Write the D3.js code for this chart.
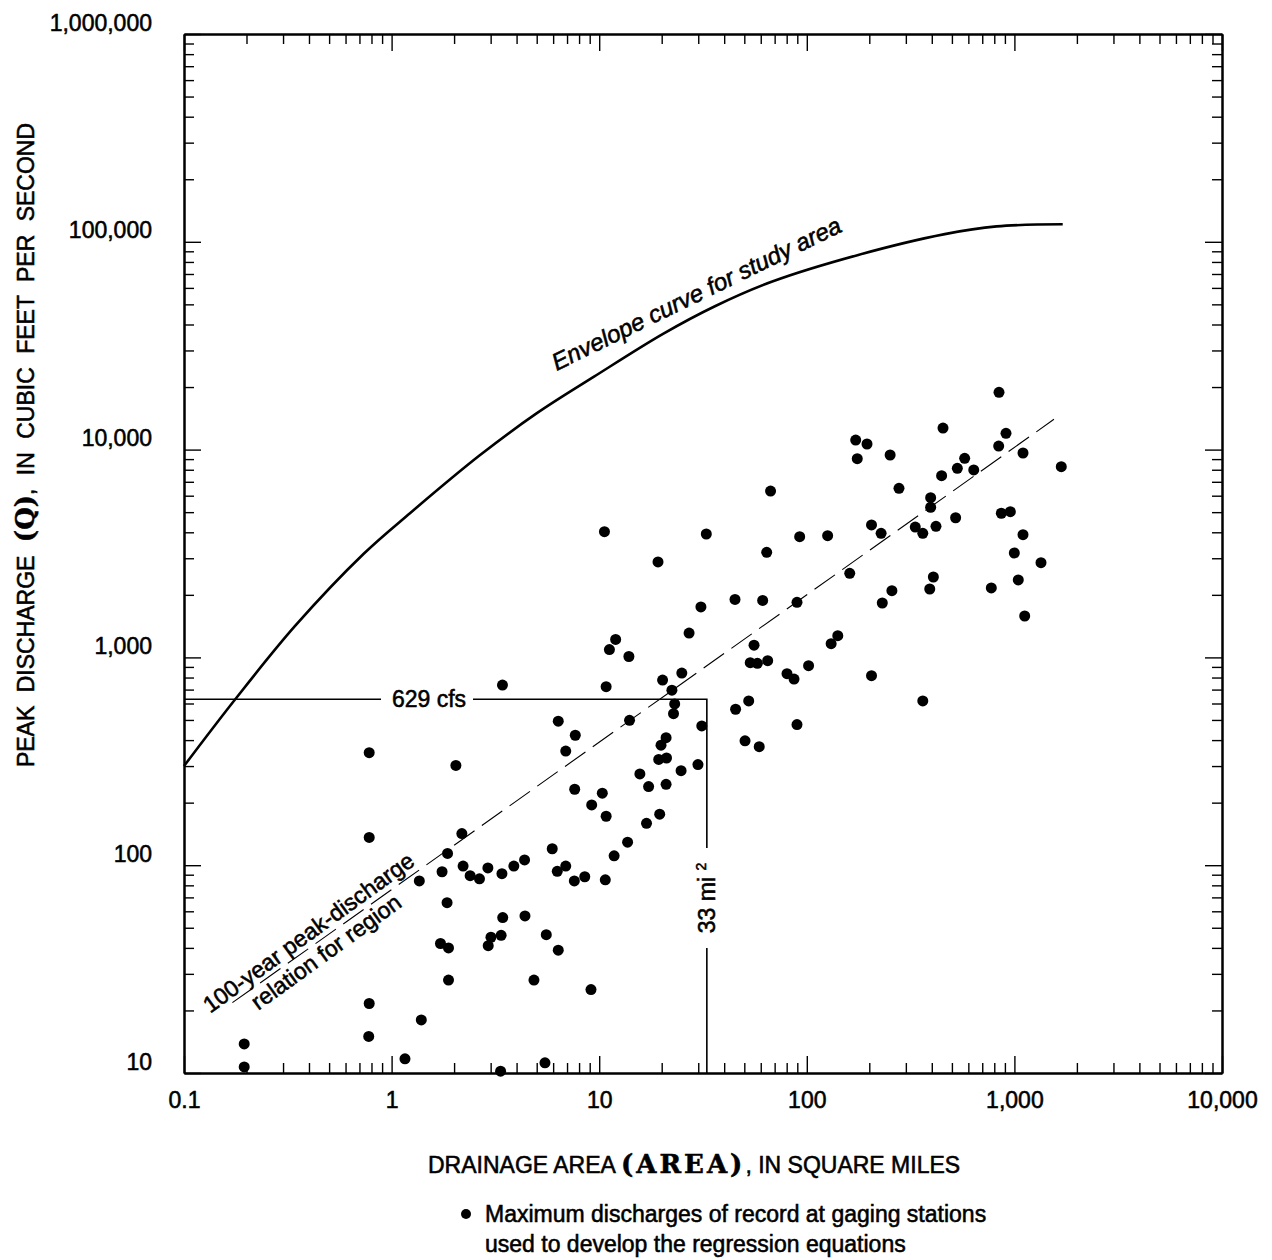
<!DOCTYPE html>
<html>
<head>
<meta charset="utf-8">
<script src="https://cdn.jsdelivr.net/npm/d3@7"></script>
<style>
    body { margin: 0; background: #fff; }
    svg text { font-family: "Liberation Sans", Arial, Helvetica, sans-serif; fill: #000; stroke: #000; stroke-width: 0.55px; }
</style>
</head>
<body>
<svg id="chart" width="1272" height="1260"></svg>
<script>
// Axes (log scales)
const xMajor = [0.1, 1, 10, 100, 1000, 10000];
const yMajor = [10, 100, 1000, 10000, 100000, 1000000];

// Gaging stations: [drainage area (mi2), peak discharge (cfs)]
const stationPoints = [
    [0.78, 348], [2.04, 302], [0.78, 136], [2.18, 142], [1.86, 114], [1.75, 93], [1.36, 84],
    [2.21, 99], [2.39, 89], [2.65, 86], [2.91, 97], [3.40, 91], [3.88, 99], [4.37, 106],
    [1.85, 66], [3.43, 56], [4.39, 57], [1.72, 42], [1.88, 40], [3.01, 45], [3.37, 46],
    [2.92, 41], [1.88, 28], [0.78, 21.6], [1.39, 18], [0.776, 15], [0.195, 13.8], [0.195, 10.7],
    [1.16, 11.7], [3.35, 10.2],
    [6.35, 493], [14.0, 498], [31.2, 468], [89.7, 475], [7.67, 422], [6.9, 354], [21.0, 411],
    [19.85, 378], [50.4, 397], [59, 372], [19.35, 323], [21.1, 328], [29.9, 305], [24.8, 285],
    [15.7, 275], [17.3, 239], [21.0, 245], [7.62, 232], [10.35, 222], [9.2, 195], [10.8, 172],
    [19.56, 176], [16.9, 159], [13.7, 129], [11.8, 111], [5.94, 120], [6.28, 93.5], [6.9, 99],
    [7.59, 84], [8.52, 88], [10.7, 85], [5.56, 46.3], [6.35, 39], [4.85, 28], [9.13, 25.2],
    [5.48, 11.2],
    [10.6, 4025], [32.8, 3925], [92.4, 3810], [64.1, 3205], [19.2, 2880], [30.9, 1750],
    [45.1, 1900], [61.3, 1880], [89.7, 1840], [27.1, 1310], [12.0, 1220], [11.2, 1090],
    [13.9, 1010], [55.7, 1145], [53.4, 943], [57.8, 937], [64.8, 964], [102, 912], [80.3, 835],
    [86.8, 787], [25.0, 841], [20.2, 778], [10.8, 723], [22.4, 695], [23.1, 597], [22.8, 536],
    [52.5, 617], [45.4, 563], [3.42, 736], [66.9, 6315],
    [843, 18870], [453, 12700], [911, 11980], [172, 11120], [195, 10640], [175, 9040],
    [252, 9420], [840, 10400], [1100, 9630], [1682, 8275], [576, 9080], [531, 8130],
    [637, 7980], [446, 7490], [278, 6510], [395, 5870], [395, 5280], [205, 4340], [228, 3955],
    [333, 4240], [362, 3955], [419, 4275], [521, 4700], [865, 4940], [956, 5025], [1100, 3895],
    [999, 3180], [1343, 2856], [1044, 2358], [774, 2158], [1121, 1582], [126, 3852], [161, 2540],
    [407, 2437], [391, 2134], [257, 2094], [231, 1827], [141, 1272], [131, 1164], [205, 817],
    [362, 617]
];

// Envelope curve for study area
const envelopeCurve = [
    [0.1, 300], [0.175, 622], [0.342, 1413], [0.736, 3162], [1.23, 4955], [2.64, 9333],
    [4.99, 14930], [9.44, 22440], [20.3, 36060], [36.1, 48980], [68.2, 64420], [177, 86500],
    [462, 108900], [821, 118600], [1709, 121400]
];

// 100-year regional relation (end points)
const regressionLine = [[0.171, 21.8], [1551, 13990]];

// Example site
const siteArea = 33;
const siteQ = 629;

const svg = d3.select('#chart');
const x = d3.scaleLog().domain([0.1, 10000]).range([184, 1222]);
const y = d3.scaleLog().domain([10, 1000000]).range([1073, 34]);

function minorTicks(majors) {
    const out = [];
    majors.slice(0, -1).forEach(m => {
        for (let k = 2; k <= 9; k++) out.push(m * k);
    });
    return out;
}
const xMinor = minorTicks(xMajor);
const yMinor = minorTicks(yMajor);

const fmt = d => d < 1 ? '0.1' : d3.format(',')(d);

function styleAxis(g) {
    g.select('.domain').attr('stroke', '#000').attr('stroke-width', 2);
    g.selectAll('.tick line').attr('stroke', '#000').attr('stroke-width', 1.4);
    g.selectAll('text')
        .attr('font-family', '"Liberation Sans", Arial, sans-serif')
        .attr('font-size', 23)
        .attr('fill', '#000');
}

// bottom
svg.append('g').attr('transform', 'translate(0,1073)')
    .call(d3.axisBottom(x).tickValues(xMinor).tickSize(-10).tickSizeOuter(0).tickFormat(''))
    .call(styleAxis);
svg.append('g').attr('transform', 'translate(0,1073)')
    .call(d3.axisBottom(x).tickValues(xMajor).tickSize(-17).tickSizeOuter(0).tickPadding(19).tickFormat(fmt))
    .call(styleAxis);

// top
svg.append('g').attr('transform', 'translate(0,34)')
    .call(d3.axisTop(x).tickValues(xMinor).tickSize(-10).tickSizeOuter(0).tickFormat(''))
    .call(styleAxis);
svg.append('g').attr('transform', 'translate(0,34)')
    .call(d3.axisTop(x).tickValues(xMajor).tickSize(-17).tickSizeOuter(0).tickFormat(''))
    .call(styleAxis);

// left
svg.append('g').attr('transform', 'translate(184,0)')
    .call(d3.axisLeft(y).tickValues(yMinor).tickSize(-10).tickSizeOuter(0).tickFormat(''))
    .call(styleAxis);
const yAxisG = svg.append('g').attr('transform', 'translate(184,0)')
    .call(d3.axisLeft(y).tickValues(yMajor).tickSize(-17).tickSizeOuter(0).tickPadding(32).tickFormat(fmt))
    .call(styleAxis);
yAxisG.selectAll('text').attr('dy', -4);

// right
svg.append('g').attr('transform', 'translate(1222,0)')
    .call(d3.axisRight(y).tickValues(yMinor).tickSize(-10).tickSizeOuter(0).tickFormat(''))
    .call(styleAxis);
svg.append('g').attr('transform', 'translate(1222,0)')
    .call(d3.axisRight(y).tickValues(yMajor).tickSize(-17).tickSizeOuter(0).tickFormat(''))
    .call(styleAxis);

// Envelope curve
const line = d3.line()
    .x(d => x(d[0]))
    .y(d => y(d[1]))
    .curve(d3.curveCatmullRom.alpha(0.5));

svg.append('path')
    .datum(envelopeCurve)
    .attr('d', line)
    .attr('fill', 'none')
    .attr('stroke', '#000')
    .attr('stroke-width', 2.6);

// Regression line (dashed)
svg.append('path')
    .datum(regressionLine)
    .attr('d', d3.line().x(d => x(d[0])).y(d => y(d[1])))
    .attr('fill', 'none')
    .attr('stroke', '#000')
    .attr('stroke-width', 1.1)
    .attr('stroke-dasharray', '25,9');

// 629 cfs / 33 mi2 guide lines
svg.append('path')
    .attr('d', `M${x(0.1)},${y(siteQ)}H${x(siteArea)}V${y(10)}`)
    .attr('fill', 'none')
    .attr('stroke', '#000')
    .attr('stroke-width', 1.6);

// label gaps
svg.append('rect')
    .attr('x', 381).attr('y', y(siteQ) - 12)
    .attr('width', 92).attr('height', 24)
    .attr('fill', '#fff');
svg.append('text')
    .attr('x', 429).attr('y', y(siteQ) + 8)
    .attr('text-anchor', 'middle')
    .attr('font-size', 23)
    .text(siteQ + ' cfs');

svg.append('rect')
    .attr('x', x(siteArea) - 13).attr('y', 848)
    .attr('width', 26).attr('height', 100)
    .attr('fill', '#fff');
const miLabel = svg.append('text')
    .attr('transform', `translate(${x(siteArea) + 8},898) rotate(-90)`)
    .attr('text-anchor', 'middle')
    .attr('font-size', 23);
miLabel.append('tspan').text(siteArea + ' mi ');
miLabel.append('tspan').attr('font-size', 14).attr('dy', -9).text('2');

// Stations
svg.selectAll('.station')
    .data(stationPoints)
    .enter()
    .append('circle')
    .attr('class', 'station')
    .attr('cx', d => x(d[0]))
    .attr('cy', d => y(d[1]))
    .attr('r', 5.5)
    .attr('fill', '#000');

// Curve labels
svg.append('text')
    .attr('transform', 'translate(700,301) rotate(-26)')
    .attr('text-anchor', 'middle')
    .attr('font-size', 24)
    .attr('font-style', 'italic')
    .text('Envelope curve for study area');

const regLabel = svg.append('g')
    .attr('transform', 'translate(316,943) rotate(-36)');
regLabel.append('text')
    .attr('y', -5)
    .attr('text-anchor', 'middle')
    .attr('font-size', 23)
    .text('100-year peak-discharge');
regLabel.append('text')
    .attr('x', 3)
    .attr('y', 21)
    .attr('text-anchor', 'middle')
    .attr('font-size', 23)
    .text('relation for region');

// Axis titles
const xTitle = svg.append('text')
    .attr('x', 428).attr('y', 1173)
    .attr('font-size', 23);
xTitle.append('tspan').text('DRAINAGE AREA ');
xTitle.append('tspan')
    .attr('font-family', '"DejaVu Serif", serif')
    .attr('font-weight', 'bold')
    .attr('font-size', 26)
    .attr('letter-spacing', 3)
    .text('(AREA)');
xTitle.append('tspan').text(', IN SQUARE MILES');

const yTitle = svg.append('text')
    .attr('transform', 'translate(34,445) rotate(-90)')
    .attr('text-anchor', 'middle')
    .attr('font-size', 23)
    .attr('word-spacing', 7);
yTitle.append('tspan').text('PEAK DISCHARGE ');
yTitle.append('tspan')
    .attr('font-family', '"DejaVu Serif", serif')
    .attr('font-weight', 'bold')
    .attr('font-size', 26)
    .text('(Q)');
yTitle.append('tspan').text(', IN CUBIC FEET PER SECOND');

// Legend
svg.append('circle')
    .attr('cx', 466).attr('cy', 1214).attr('r', 5)
    .attr('fill', '#000');
svg.append('text')
    .attr('x', 485).attr('y', 1222)
    .attr('font-size', 23)
    .text('Maximum discharges of record at gaging stations');
svg.append('text')
    .attr('x', 485).attr('y', 1252)
    .attr('font-size', 23)
    .text('used to develop the regression equations');
</script>
</body>
</html>
